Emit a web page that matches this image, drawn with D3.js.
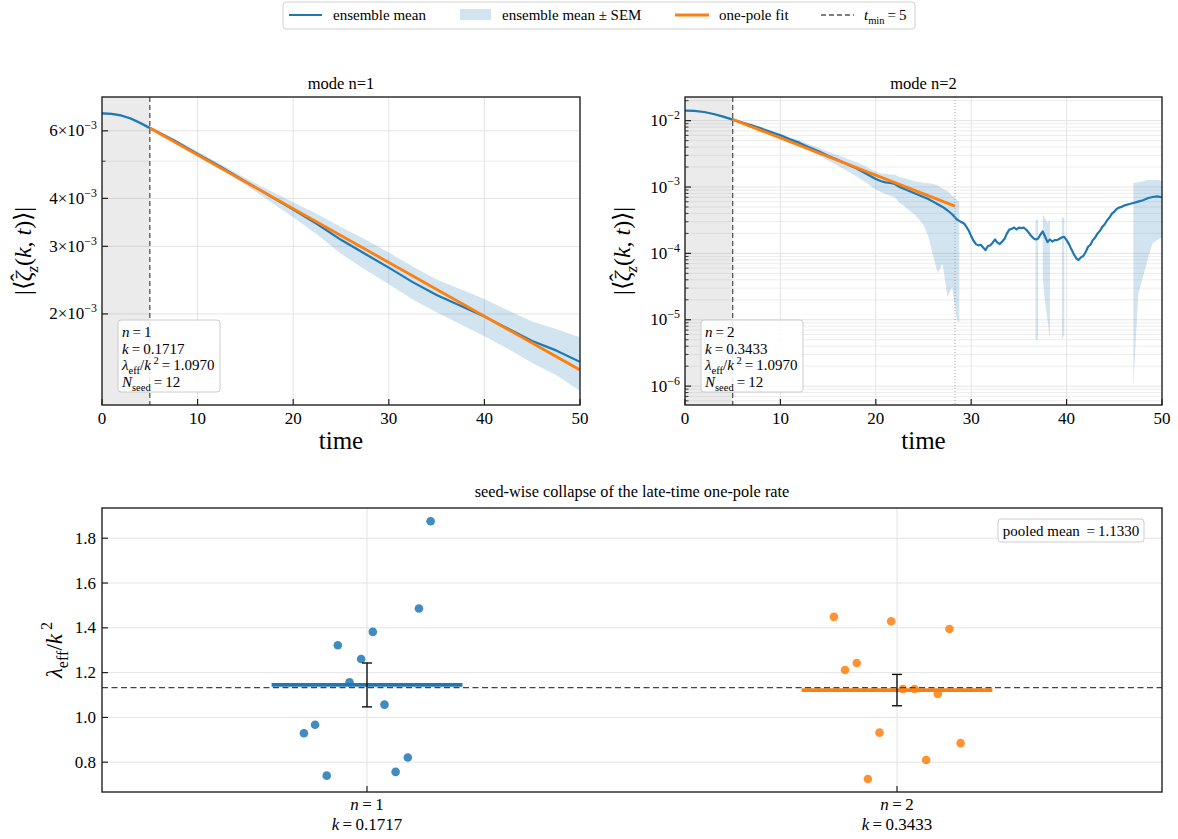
<!DOCTYPE html>
<html><head><meta charset="utf-8">
<script src="https://cdn.jsdelivr.net/npm/d3@7"></script>
<style>
body{margin:0;background:#fff;}
svg text{font-family:"Liberation Serif","Times New Roman",serif;fill:#000;}
</style></head><body>
<svg id="c" width="1178" height="839"></svg>
<script>
// ---------------- data ----------------
const time1 = [0,1,2,3,4,5,7.5,10,12.5,15,17.5,20,22.5,25,27.5,30,32.5,35,37.5,40,42.5,45,47.5,50];
const mean1 = [6.66e-3,6.64e-3,6.58e-3,6.46e-3,6.29e-3,6.10e-3,5.67e-3,5.22e-3,4.82e-3,4.43e-3,4.07e-3,3.74e-3,3.43e-3,3.12e-3,2.87e-3,2.64e-3,2.42e-3,2.24e-3,2.10e-3,1.968e-3,1.83e-3,1.70e-3,1.607e-3,1.50e-3];
const sem1 = [0.05e-3,0.05e-3,0.05e-3,0.06e-3,0.06e-3,0.07e-3,0.07e-3,0.08e-3,0.08e-3,0.09e-3,0.13e-3,0.17e-3,0.21e-3,0.25e-3,0.26e-3,0.25e-3,0.24e-3,0.22e-3,0.22e-3,0.22e-3,0.21e-3,0.21e-3,0.22e-3,0.24e-3];
const fitTime1 = [5, 50];
const fitValue1 = [6.10e-3, 1.429e-3];

const time2 = [0,1,2,3,4,5,6,7,8,9,10,11,12,13,14,15,16,17,18,19,20,20.5,21,21.5,22,22.5,23,23.5,24,24.5,25,25.5,26,26.5,27,27.5,28,
  28.5,28.75,29,29.25,29.5,29.75,30,30.25,30.5,30.75,31,31.25,31.5,31.75,32,32.25,32.5,32.75,33,33.25,33.5,33.75,34,34.25,34.5,34.75,35,35.25,35.5,35.75,36,36.25,36.5,36.75,37,37.25,37.5,37.75,38,38.25,38.5,38.75,39,39.25,39.5,39.75,40,40.25,40.5,40.75,41,41.25,41.5,41.75,42,42.25,42.5,42.75,43,43.25,43.5,43.75,44,44.25,44.5,44.75,45,45.25,45.5,45.75,46,46.5,47,47.5,48,48.5,49,49.5,50];
const mean2 = [1.413e-2,1.40e-2,1.349e-2,1.259e-2,1.148e-2,1.035e-2,9.33e-3,8.51e-3,7.59e-3,6.76e-3,6.03e-3,5.25e-3,4.62e-3,3.98e-3,3.47e-3,2.95e-3,2.57e-3,2.21e-3,1.905e-3,1.585e-3,1.318e-3,1.23e-3,1.175e-3,1.148e-3,1.11e-3,1.0e-3,9.33e-4,8.71e-4,8.13e-4,7.59e-4,7.08e-4,6.61e-4,6.03e-4,5.50e-4,5.01e-4,4.47e-4,3.89e-4,
  3.24e-4,3.09e-4,2.95e-4,2.82e-4,2.51e-4,2.19e-4,1.82e-4,1.55e-4,1.38e-4,1.32e-4,1.35e-4,1.23e-4,1.12e-4,1.29e-4,1.32e-4,1.45e-4,1.62e-4,1.45e-4,1.38e-4,1.51e-4,1.66e-4,2.0e-4,2.29e-4,2.34e-4,2.45e-4,2.29e-4,2.45e-4,2.40e-4,2.45e-4,2.29e-4,2.09e-4,1.86e-4,1.70e-4,1.62e-4,1.66e-4,1.91e-4,2.14e-4,1.78e-4,1.48e-4,1.62e-4,1.51e-4,1.585e-4,1.585e-4,1.66e-4,1.74e-4,1.78e-4,1.585e-4,1.38e-4,1.15e-4,9.77e-5,8.51e-5,7.94e-5,8.71e-5,9.12e-5,1.05e-4,1.26e-4,1.35e-4,1.585e-4,1.74e-4,2.0e-4,2.19e-4,2.51e-4,2.75e-4,3.16e-4,3.47e-4,3.98e-4,4.27e-4,4.68e-4,4.90e-4,5.01e-4,5.25e-4,5.50e-4,5.75e-4,6.03e-4,6.31e-4,6.76e-4,7.08e-4,7.24e-4,7.0e-4];
const sem2 = [4.2e-4,4.2e-4,4.0e-4,3.8e-4,3.4e-4,3.1e-4,3.3e-4,3.4e-4,3.4e-4,3.4e-4,3.6e-4,3.7e-4,4.2e-4,4.4e-4,4.5e-4,4.4e-4,4.6e-4,4.6e-4,4.6e-4,4.3e-4,4.0e-4,3.8e-4,3.9e-4,4.0e-4,4.2e-4,4.2e-4,4.2e-4,4.3e-4,4.2e-4,4.3e-4,4.4e-4,4.8e-4,5.1e-4,5.0e-4,4.3e-4,4.25e-4,3.58e-4,
  3.14e-4,3.0e-4,3.1e-4,3.0e-4,2.9e-4,2.7e-4,2.6e-4,2.5e-4,2.4e-4,2.3e-4,2.3e-4,2.2e-4,2.2e-4,2.2e-4,2.2e-4,2.2e-4,2.2e-4,2.2e-4,2.3e-4,2.3e-4,2.4e-4,2.5e-4,2.6e-4,2.6e-4,2.7e-4,2.7e-4,2.7e-4,2.7e-4,2.7e-4,2.6e-4,2.4e-4,2.1e-4,1.9e-4,1.57e-4,1.61e-4,1.95e-4,1.71e-4,1.60e-4,1.38e-4,1.57e-4,1.59e-4,1.7e-4,1.7e-4,1.75e-4,1.69e-4,1.72e-4,1.8e-4,1.7e-4,1.6e-4,1.5e-4,1.4e-4,1.4e-4,1.4e-4,1.5e-4,1.6e-4,1.7e-4,1.9e-4,2.1e-4,2.3e-4,2.5e-4,2.8e-4,3.0e-4,3.3e-4,3.6e-4,4.0e-4,4.3e-4,4.6e-4,5.0e-4,5.2e-4,5.4e-4,5.5e-4,5.6e-4,5.74e-4,5.79e-4,5.87e-4,5.95e-4,5.66e-4,5.65e-4,5.25e-4];
const fitTime2 = [5, 28.3];
const fitValue2 = [1.043e-2, 5.16e-4];

const tMin = 5;
const fitEnd2 = 28.3;
const modeN = ["1", "2"];
const modeK = ["0.1717", "0.3433"];
const lambdaRatio = ["1.0970", "1.0970"];
const nSeed = "12";

const seedRate1 = [1.876,1.486,1.382,1.322,1.261,1.157,1.057,0.967,0.929,0.821,0.757,0.740];
const jitter1 = [0.120,0.098,0.011,-0.055,-0.011,-0.033,0.033,-0.098,-0.119,0.077,0.054,-0.076];
const seedRate2 = [1.449,1.429,1.395,1.243,1.212,1.127,1.127,1.105,0.932,0.885,0.810,0.725];
const jitter2 = [-0.119,-0.011,0.099,-0.076,-0.098,0.011,0.033,0.077,-0.033,0.120,0.055,-0.055];
const modeMeanRate = [1.145, 1.122];
const modeSemRate = [0.098, 0.070];
const pooledMean = 1.1330;

const xTicksTime = [0,10,20,30,40,50];
const yTicks1 = [2e-3,3e-3,4e-3,6e-3];
const yTickLabels1 = ["2","3","4","6"];
const yMinor1 = [5e-3];
const yTicks2 = [1e-6,1e-5,1e-4,1e-3,1e-2];
const yTickExp2 = ["\u22126","\u22125","\u22124","\u22123","\u22122"];
const yTicksB = [0.8,1.0,1.2,1.4,1.6,1.8];

// ---------------- helpers ----------------
const BLUE = "#1f77b4", ORANGE = "#ff7f0e", GRID = "#e4e4e4";
const svg = d3.select("#c");

function rich(textSel, parts, size){
  let off = 0;
  parts.forEach(p=>{
    const ts = textSel.append("tspan").text(p.t);
    let target = 0, fs = size;
    if (p.sub){ target = size*0.28; fs = size*0.7; }
    if (p.sup){ target = -size*0.42; fs = size*0.7; }
    if (p.rise !== undefined){ target = p.rise; }
    if (p.i) ts.attr("font-style","italic");
    if (p.dx) ts.attr("dx", p.dx);
    ts.attr("font-size", fs);
    if (target !== off){ ts.attr("dy", target - off); off = target; }
  });
  return textSel;
}
const TS = "\u2009";

function topPanel(cfg){
  const g = svg.append("g");
  const x = d3.scaleLinear().domain([0,50]).range([cfg.left, cfg.right]);
  const y = d3.scaleLog().domain(cfg.ydom).range([405, 97]);
  const top = 97, bot = 405;
  const cid = "clip"+cfg.id;
  svg.append("clipPath").attr("id",cid).append("rect")
    .attr("x",cfg.left).attr("y",top).attr("width",cfg.right-cfg.left).attr("height",bot-top);
  const inner = g.append("g").attr("clip-path",`url(#${cid})`);
  cfg.minorGrid.forEach(v=>{
    inner.append("line").attr("x1",cfg.left).attr("x2",cfg.right).attr("y1",y(v)).attr("y2",y(v))
      .attr("stroke","#e9e9e9").attr("stroke-width",0.8);
  });
  cfg.majorGrid.forEach(v=>{
    inner.append("line").attr("x1",cfg.left).attr("x2",cfg.right).attr("y1",y(v)).attr("y2",y(v))
      .attr("stroke",GRID).attr("stroke-width",1);
  });
  xTicksTime.slice(1,-1).forEach(v=>{
    inner.append("line").attr("x1",x(v)).attr("x2",x(v)).attr("y1",top).attr("y2",bot)
      .attr("stroke",GRID).attr("stroke-width",1);
  });
  inner.append("rect").attr("x",x(0)).attr("y",top).attr("width",x(tMin)-x(0)).attr("height",bot-top)
    .attr("fill","#888").attr("fill-opacity",0.17);
  const pts = cfg.time.map((t,i)=>({t, m:cfg.mean[i], s:cfg.sem[i]}));
  inner.append("path").datum(pts)
    .attr("d", d3.area().defined(d=>d.m-d.s>0).x(d=>x(d.t)).y0(d=>y(d.m-d.s)).y1(d=>y(d.m+d.s)))
    .attr("fill",BLUE).attr("fill-opacity",0.2);
  inner.append("path").datum(pts)
    .attr("d", d3.line().x(d=>x(d.t)).y(d=>y(d.m)))
    .attr("fill","none").attr("stroke",BLUE).attr("stroke-width",2.2).attr("stroke-linejoin","round");
  inner.append("line").attr("x1",x(tMin)).attr("x2",x(tMin)).attr("y1",top).attr("y2",bot)
    .attr("stroke","#555").attr("stroke-width",1.3).attr("stroke-dasharray","5,3");
  if (cfg.fitEnd){
    inner.append("line").attr("x1",x(cfg.fitEnd)).attr("x2",x(cfg.fitEnd)).attr("y1",top).attr("y2",bot)
      .attr("stroke","#999").attr("stroke-width",0.9).attr("stroke-dasharray","1,2");
  }
  const fp = cfg.fitT.map((t,i)=>[t,cfg.fitV[i]]);
  inner.append("path").datum(fp).attr("d", d3.line().x(d=>x(d[0])).y(d=>y(d[1])))
    .attr("fill","none").attr("stroke",ORANGE).attr("stroke-width",2.8);
  g.append("rect").attr("x",cfg.left).attr("y",top).attr("width",cfg.right-cfg.left).attr("height",bot-top)
    .attr("fill","none").attr("stroke","#222").attr("stroke-width",1.4);
  xTicksTime.forEach(v=>{
    g.append("line").attr("x1",x(v)).attr("x2",x(v)).attr("y1",bot).attr("y2",bot-6).attr("stroke","#222").attr("stroke-width",1.2);
    g.append("text").attr("x",x(v)).attr("y",bot+19).attr("text-anchor","middle").attr("font-size",17).text(v);
  });
  cfg.minorTicks.forEach(v=>{
    g.append("line").attr("x1",cfg.left).attr("x2",cfg.left+3.5).attr("y1",y(v)).attr("y2",y(v)).attr("stroke","#222").attr("stroke-width",0.9);
  });
  cfg.yTicks.forEach((v,i)=>{
    g.append("line").attr("x1",cfg.left).attr("x2",cfg.left+6).attr("y1",y(v)).attr("y2",y(v)).attr("stroke","#222").attr("stroke-width",1.2);
    const t = g.append("text").attr("x",cfg.left-5).attr("y",y(v)+5.5).attr("text-anchor","end");
    rich(t, cfg.yLabel(i), 17);
  });
  g.append("text").attr("x",(cfg.left+cfg.right)/2).attr("y",89).attr("text-anchor","middle").attr("font-size",16.5).text(cfg.title);
  g.append("text").attr("x",(cfg.left+cfg.right)/2).attr("y",449).attr("text-anchor","middle").attr("font-size",25).text("time");
  const yl = g.append("text").attr("transform",`translate(${cfg.ylabX},251) rotate(-90)`).attr("text-anchor","middle");
  rich(yl, [{t:"|\u27E8"},{t:"\u03B6",i:true},{t:"\u02C6",rise:-4,dx:-10},{t:"z",i:true,sub:true,dx:1},{t:"("},{t:"k",i:true},{t:", "},{t:"t",i:true},{t:")\u27E9|"}], 24);
  const bx = cfg.left+16, by = 320;
  g.append("rect").attr("x",bx).attr("y",by).attr("width",102).attr("height",72).attr("rx",3)
    .attr("fill","#fff").attr("fill-opacity",0.85).attr("stroke","#ccc").attr("stroke-width",1);
  const lines = [
    [{t:"n",i:true},{t:TS+"="+TS+cfg.n}],
    [{t:"k",i:true},{t:TS+"="+TS+cfg.k}],
    [{t:"\u03BB",i:true},{t:"eff",sub:true},{t:"/"},{t:"k",i:true},{t:" 2",sup:true},{t:TS+"="+TS+cfg.lam}],
    [{t:"N",i:true},{t:"seed",sub:true},{t:TS+"="+TS+nSeed}]
  ];
  lines.forEach((ln,i)=>{
    const t = g.append("text").attr("x",bx+4).attr("y",by+17+i*16.5);
    rich(t, ln, 15);
  });
}

topPanel({id:1, left:102, right:580, ydom:[1.158e-3,7.35e-3], time:time1, mean:mean1, sem:sem1,
  fitT:fitTime1, fitV:fitValue1, fitEnd:null, title:"mode n=1", ylabX:31,
  majorGrid:yTicks1, minorGrid:yMinor1, minorTicks:yMinor1, yTicks:yTicks1,
  yLabel:i=>[{t:yTickLabels1[i]+"\u00D710"},{t:"\u22123",sup:true}],
  n:modeN[0], k:modeK[0], lam:lambdaRatio[0]});

const minor2 = [];
[1e-7,1e-6,1e-5,1e-4,1e-3,1e-2].forEach(d=>{ for(let m=2;m<=9;m++){ const v=d*m; if(v>5.2e-7 && v<2.27e-2) minor2.push(v);} });
topPanel({id:2, left:685, right:1162, ydom:[5.2e-7,2.27e-2], time:time2, mean:mean2, sem:sem2,
  fitT:fitTime2, fitV:fitValue2, fitEnd:fitEnd2, title:"mode n=2", ylabX:630,
  majorGrid:yTicks2, minorGrid:minor2, minorTicks:minor2, yTicks:yTicks2,
  yLabel:i=>[{t:"10"},{t:yTickExp2[i],sup:true}],
  n:modeN[1], k:modeK[1], lam:lambdaRatio[1]});

// ---------------- bottom panel ----------------
(function(){
  const L=102,R=1162,T=508,B=792;
  const g = svg.append("g");
  const x = d3.scaleLinear().domain([-0.5,1.5]).range([L,R]);
  const y = d3.scaleLinear().domain([0.667,1.935]).range([B,T]);
  yTicksB.forEach(v=>{
    g.append("line").attr("x1",L).attr("x2",R).attr("y1",y(v)).attr("y2",y(v)).attr("stroke",GRID).attr("stroke-width",1);
  });
  [0,1].forEach(c=>{
    g.append("line").attr("x1",x(c)).attr("x2",x(c)).attr("y1",T).attr("y2",B).attr("stroke",GRID).attr("stroke-width",1);
  });
  const series = [
    {rates:seedRate1, jit:jitter1, col:BLUE},
    {rates:seedRate2, jit:jitter2, col:ORANGE}
  ];
  series.forEach((s,c)=>{
    g.append("line").attr("x1",x(c-0.18)).attr("x2",x(c+0.18)).attr("y1",y(modeMeanRate[c])).attr("y2",y(modeMeanRate[c]))
      .attr("stroke",s.col).attr("stroke-width",3.8);
    g.selectAll(null).data(s.rates).join("circle")
      .attr("cx",(d,i)=>x(c+s.jit[i])).attr("cy",d=>y(d)).attr("r",4.3)
      .attr("fill",s.col).attr("fill-opacity",0.85);
  });
  g.append("line").attr("x1",L).attr("x2",R).attr("y1",y(pooledMean)).attr("y2",y(pooledMean))
    .attr("stroke","#444").attr("stroke-width",1.4).attr("stroke-dasharray","6,3.5");
  [0,1].forEach(c=>{
    const y0=y(modeMeanRate[c]-modeSemRate[c]), y1=y(modeMeanRate[c]+modeSemRate[c]);
    g.append("line").attr("x1",x(c)).attr("x2",x(c)).attr("y1",y0).attr("y2",y1).attr("stroke","#111").attr("stroke-width",1.4);
    [y0,y1].forEach(yy=>g.append("line").attr("x1",x(c)-5).attr("x2",x(c)+5).attr("y1",yy).attr("y2",yy).attr("stroke","#111").attr("stroke-width",1.4));
  });
  g.append("rect").attr("x",L).attr("y",T).attr("width",R-L).attr("height",B-T).attr("fill","none").attr("stroke","#222").attr("stroke-width",1.4);
  yTicksB.forEach(v=>{
    g.append("line").attr("x1",L).attr("x2",L+6).attr("y1",y(v)).attr("y2",y(v)).attr("stroke","#222").attr("stroke-width",1.2);
    g.append("text").attr("x",L-6).attr("y",y(v)+5.5).attr("text-anchor","end").attr("font-size",17).text(v.toFixed(1));
  });
  [0,1].forEach(c=>{
    g.append("line").attr("x1",x(c)).attr("x2",x(c)).attr("y1",B).attr("y2",B-6).attr("stroke","#222").attr("stroke-width",1.2);
    rich(g.append("text").attr("x",x(c)).attr("y",810).attr("text-anchor","middle"), [{t:"n",i:true},{t:TS+"="+TS+modeN[c]}], 17);
    rich(g.append("text").attr("x",x(c)).attr("y",830).attr("text-anchor","middle"), [{t:"k",i:true},{t:TS+"="+TS+modeK[c]}], 17);
  });
  g.append("text").attr("x",(L+R)/2).attr("y",497).attr("text-anchor","middle").attr("font-size",16.3)
    .text("seed-wise collapse of the late-time one-pole rate");
  rich(g.append("text").attr("transform",`translate(62,${(T+B)/2}) rotate(-90)`).attr("text-anchor","middle"),
    [{t:"\u03BB",i:true},{t:"eff",sub:true},{t:"/"},{t:"k",i:true},{t:" 2",sup:true}], 23);
  g.append("rect").attr("x",998).attr("y",519).attr("width",146).attr("height",23).attr("rx",3)
    .attr("fill","#fff").attr("stroke","#ccc");
  g.append("text").attr("x",1071).attr("y",536).attr("text-anchor","middle").attr("font-size",15)
    .text("pooled mean "+TS+"="+TS+pooledMean.toFixed(4));
})();

// ---------------- legend ----------------
(function(){
  const g = svg.append("g");
  g.append("rect").attr("x",283).attr("y",2).attr("width",632).attr("height",27).attr("rx",3)
    .attr("fill","#fff").attr("stroke","#d0d0d0");
  const cy = 15;
  g.append("line").attr("x1",289).attr("x2",322).attr("y1",cy).attr("y2",cy).attr("stroke",BLUE).attr("stroke-width",2.2);
  g.append("text").attr("x",333).attr("y",cy+5).attr("font-size",15).text("ensemble mean");
  g.append("rect").attr("x",460).attr("y",cy-6).attr("width",31).attr("height",11).attr("fill",BLUE).attr("fill-opacity",0.2);
  g.append("text").attr("x",502).attr("y",cy+5).attr("font-size",15).text("ensemble mean \u00B1 SEM");
  g.append("line").attr("x1",675).attr("x2",709).attr("y1",cy).attr("y2",cy).attr("stroke",ORANGE).attr("stroke-width",2.8);
  g.append("text").attr("x",719).attr("y",cy+5).attr("font-size",15).text("one-pole fit");
  g.append("line").attr("x1",821).attr("x2",854).attr("y1",cy).attr("y2",cy).attr("stroke","#555").attr("stroke-width",1.3).attr("stroke-dasharray","5,3");
  rich(g.append("text").attr("x",864).attr("y",cy+5), [{t:"t",i:true},{t:"min",sub:true},{t:TS+"="+TS+tMin}], 15);
})();
</script>
</body></html>
